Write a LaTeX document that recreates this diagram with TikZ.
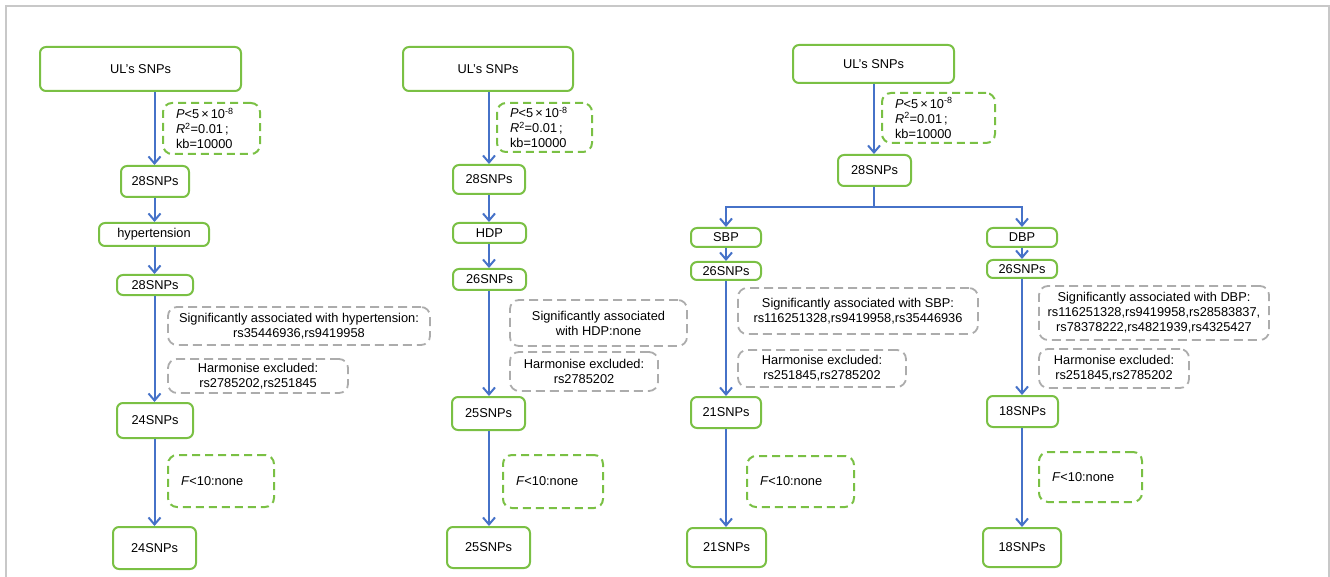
\documentclass[tikz,border=0pt]{standalone}
\usepackage{fontspec}
\setmainfont{Liberation Sans}
\usetikzlibrary{arrows.meta}
\definecolor{gr}{RGB}{122,192,68}
\definecolor{bl}{RGB}{70,114,200}
\definecolor{gy}{RGB}{172,172,172}
\definecolor{fr}{RGB}{200,200,200}
\newcommand\mybx[7]{\node[#1, minimum width={#4-#2}, minimum height={#5-#3}] (#6) at ({(#2+#4)/2},{(#3+#5)/2}) {#7};}
\newcommand\mypbx[6]{\node[pbox, text width={#3-#1-26}, minimum height={#4-#2}] (#5) at ({(#1+#3)/2},{(#2+#4)/2}) {#6};}
\newcommand\pcond{\textit{P}<5\,×\,10\textsuperscript{-8}\\\textit{R}\textsuperscript{2}=0.01\,;\\kb=10000}
\newcommand\fcond{\textit{F}<10:none}
\begin{document}
\begin{tikzpicture}[x=1pt,y=-1pt,
  every node/.style={font=\fontsize{12.8}{15}\selectfont},
  sbox/.style={draw=gr, line width=2pt, rounded corners=6pt, fill=white, inner sep=0pt},
  pbox/.style={draw=gr, line width=2pt, rounded corners=9pt, dash pattern=on 8pt off 5pt, align=left, inner xsep=13pt, inner ysep=0pt},
  gbox/.style={draw=gy, line width=1.8pt, rounded corners=9pt, dash pattern=on 9pt off 5pt, align=center, inner sep=0pt},
  arr/.style={draw=bl, line width=2pt, -{Straight Barb[length=7pt,width=12pt]}}]
\useasboundingbox (0,0) rectangle (1330,577);
\draw[fr, line width=1.5pt] (6,580) -- (6,6) -- (1329,6) -- (1329,580);
\coordinate (x1) at (154.5,0);
\coordinate (x2) at (489,0);
\coordinate (x3) at (726,0);
\coordinate (x4) at (1022,0);
\coordinate (x3t) at (874,0);

% column 1
\mybx{sbox}{40}{47}{241}{91}{u1}{UL’s SNPs}
\mypbx{163}{103}{260}{154}{p1}{\pcond}
\mybx{sbox}{121}{166}{189}{197}{a1}{28SNPs}
\mybx{sbox}{99}{223}{209}{246}{h1}{hypertension}
\mybx{sbox}{117}{275}{193}{295}{b1}{28SNPs}
\mybx{gbox}{168}{307}{430}{345}{g1a}{Significantly associated with hypertension:\\rs35446936,rs9419958}
\mybx{gbox}{168}{359}{348}{393}{g1b}{Harmonise excluded:\\rs2785202,rs251845}
\mybx{sbox}{117}{403}{193}{438}{c1}{24SNPs}
\mypbx{168}{455}{274}{507}{f1}{\fcond}
\mybx{sbox}{113}{527}{196}{569}{d1}{24SNPs}
\draw[arr] (x1 |- u1.south) -- (x1 |- a1.north);
\draw[arr] (x1 |- a1.south) -- (x1 |- h1.north);
\draw[arr] (x1 |- h1.south) -- (x1 |- b1.north);
\draw[arr] (x1 |- b1.south) -- (x1 |- c1.north);
\draw[arr] (x1 |- c1.south) -- (x1 |- d1.north);

% column 2
\mybx{sbox}{403}{47}{573}{91}{u2}{UL’s SNPs}
\mypbx{497}{103}{592}{152}{p2}{\pcond}
\mybx{sbox}{453}{165}{525}{194}{a2}{28SNPs}
\mybx{sbox}{453}{223}{526}{243}{h2}{HDP}
\mybx{sbox}{453}{269}{526}{290}{b2}{26SNPs}
\mybx{gbox}{510}{300}{687}{346}{g2a}{Significantly associated\\with HDP:none}
\mybx{gbox}{510}{352}{658}{391}{g2b}{Harmonise excluded:\\rs2785202}
\mybx{sbox}{452}{397}{525}{430}{c2}{25SNPs}
\mypbx{503}{455}{603}{508}{f2}{\fcond}
\mybx{sbox}{447}{527}{530}{568}{d2}{25SNPs}
\draw[arr] (x2 |- u2.south) -- (x2 |- a2.north);
\draw[arr] (x2 |- a2.south) -- (x2 |- h2.north);
\draw[arr] (x2 |- h2.south) -- (x2 |- b2.north);
\draw[arr] (x2 |- b2.south) -- (x2 |- c2.north);
\draw[arr] (x2 |- c2.south) -- (x2 |- d2.north);

% column 3
\mybx{sbox}{793}{45}{954}{83}{u3}{UL’s SNPs}
\mypbx{882}{93}{995}{143}{p3}{\pcond}
\mybx{sbox}{838}{155}{911}{186}{a3}{28SNPs}
\mybx{sbox}{691}{228}{761}{247}{s3}{SBP}
\mybx{sbox}{691}{262}{761}{280}{b3}{26SNPs}
\mybx{gbox}{738}{288}{978}{334}{g3a}{Significantly associated with SBP:\\rs116251328,rs9419958,rs35446936}
\mybx{gbox}{738}{350}{906}{387}{g3b}{Harmonise excluded:\\rs251845,rs2785202}
\mybx{sbox}{691}{397}{761}{428}{c3}{21SNPs}
\mypbx{747}{456}{854}{507}{f3}{\fcond}
\mybx{sbox}{687}{528}{766}{567}{d3}{21SNPs}
\coordinate (br) at (874,207);
\draw[arr] (x3t |- u3.south) -- (x3t |- a3.north);
\draw[arr] (x3t |- a3.south) -- (br) -| (x3 |- s3.north);
\draw[arr] (x3 |- s3.south) -- (x3 |- b3.north);
\draw[arr] (x3 |- b3.south) -- (x3 |- c3.north);
\draw[arr] (x3 |- c3.south) -- (x3 |- d3.north);

% column 4
\mybx{sbox}{987}{228}{1057}{247}{s4}{DBP}
\mybx{sbox}{987}{260}{1057}{278}{b4}{26SNPs}
\mybx{gbox}{1039}{286}{1269}{340}{g4a}{Significantly associated with DBP:\\rs116251328,rs9419958,rs28583837,\\rs78378222,rs4821939,rs4325427}
\mybx{gbox}{1039}{349}{1189}{388}{g4b}{Harmonise excluded:\\rs251845,rs2785202}
\mybx{sbox}{987}{396}{1058}{427}{c4}{18SNPs}
\mypbx{1039}{452}{1142}{502}{f4}{\fcond}
\mybx{sbox}{983}{528}{1061}{567}{d4}{18SNPs}
\draw[arr] (br) -| (x4 |- s4.north);
\draw[arr] (x4 |- s4.south) -- (x4 |- b4.north);
\draw[arr] (x4 |- b4.south) -- (x4 |- c4.north);
\draw[arr] (x4 |- c4.south) -- (x4 |- d4.north);
\end{tikzpicture}
\end{document}
